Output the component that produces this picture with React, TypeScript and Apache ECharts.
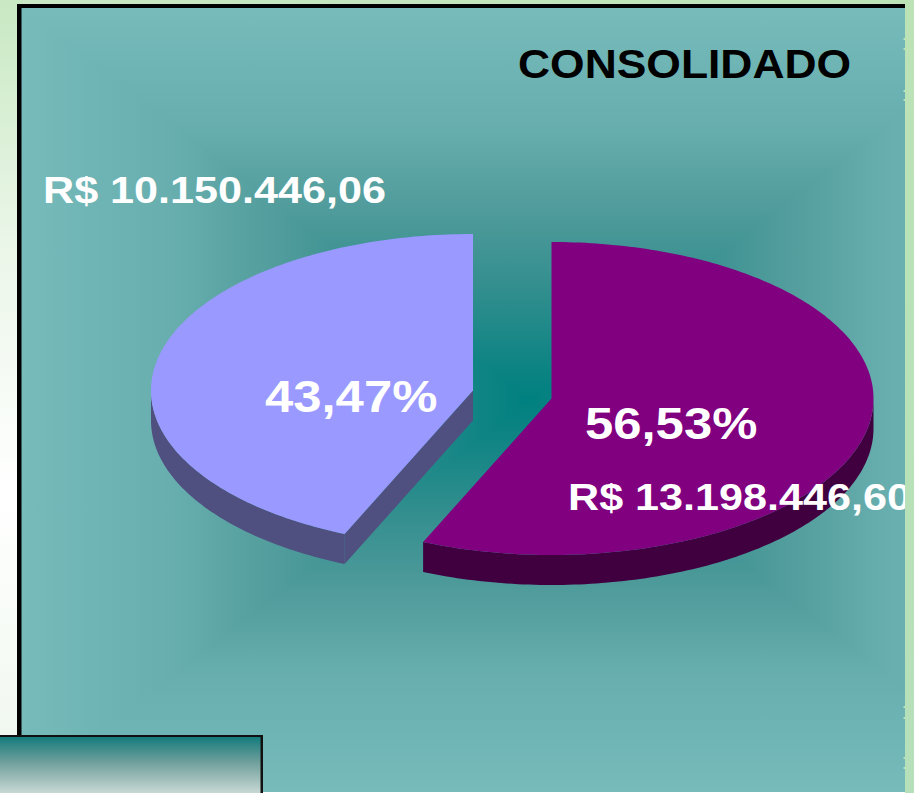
import React, { useEffect, useRef } from "react";
import * as echarts from "echarts";

const categories = ["Segmento A", "Segmento B"];
const values = [13198446.6, 10150446.06];
const valueLabels = ["R$ 13.198.446,60", "R$ 10.150.446,06"];
const percentLabels = ["56,53%", "43,47%"];
const titleText = "CONSOLIDADO";

const W = 914;
const H = 793;
const RX = 322;
const RY = 156.5;
const DEPTH = 30;
const FONT = '"Liberation Sans", Arial, sans-serif';

const sliceStyle = [
  {
    cx: 551.5, cy: 398.5, top: "#800080", side: "#400040",
    pct: [585, 424], val: [568, 497],
  },
  {
    cx: 473, cy: 390.5, top: "#9999FF", side: "#4F4F80",
    pct: [265, 397], val: [43, 190.5],
  },
];

const PANEL = { x0: 20, y0: 8, x1: 1040, y1: 792, cx: 530, cy: 400 };
const BG_STOPS: [number, string][] = [
  [0, "#77BBBB"],
  [0.3, "#68AEAE"],
  [0.515, "#509B9B"],
  [0.7, "#358F8F"],
  [0.9, "#108484"],
  [1, "#008080"],
];
const stops = BG_STOPS.map(([offset, color]) => ({ offset, color }));

function wedge(points: number[][], x0: number, y0: number, x1: number, y1: number) {
  return {
    type: "polygon",
    z: 1,
    silent: true,
    shape: { points },
    style: { fill: new echarts.graphic.LinearGradient(x0, y0, x1, y1, stops, true) },
  };
}

function txt(text: string, x: number, y: number, size: number, fill: string, sx: number, z?: number) {
  return {
    type: "text",
    x,
    y,
    scaleX: sx,
    z,
    silent: true,
    style: {
      text,
      fill,
      font: `bold ${size}px ${FONT}`,
      textAlign: "left",
      textVerticalAlign: "middle",
    },
  };
}

function buildOption() {
  const total = values.reduce((a, b) => a + b, 0);
  const P = PANEL;
  const c = [P.cx, P.cy];
  const marks = [38, 48, 90, 99, 706, 717, 757, 767];
  return {
    animation: false,
    backgroundColor: "#FFFFFF",
    graphic: {
      elements: [
        {
          type: "rect", z: 0, silent: true,
          shape: { x: 0, y: 0, width: 18, height: H },
          style: {
            fill: new echarts.graphic.LinearGradient(0, 0, 0, 1, [
              { offset: 0, color: "#C8E8C2" },
              { offset: 0.3, color: "#EAF6E8" },
              { offset: 0.62, color: "#FFFFFF" },
              { offset: 0.95, color: "#F0F8EF" },
            ]),
          },
        },
        // side wedges overlap underneath the top and bottom wedges to hide seams
        wedge([[P.x0, P.y0 - 4], [P.x0, P.y1 + 12], [P.cx + 12, P.cy]], P.x0, 0, P.cx, 0),
        wedge([[P.x1, P.y0 - 4], [P.x1, P.y1 + 12], [P.cx - 12, P.cy]], P.x1, 0, P.cx, 0),
        wedge([[P.x0, P.y0], [P.x1, P.y0], c], 0, P.y0, 0, P.cy),
        wedge([[P.x0, P.y1], [P.x1, P.y1], c], 0, P.y1, 0, P.cy),
        {
          type: "rect", z: 2, silent: true,
          shape: { x: 0, y: 0, width: W, height: 5 },
          style: {
            fill: new echarts.graphic.LinearGradient(0, 0, 1, 0, [
              { offset: 0, color: "#C9E8C4" },
              { offset: 1, color: "#BCE3B6" },
            ]),
          },
        },
        {
          type: "rect", z: 2, silent: true,
          shape: { x: 17, y: 4, width: 900, height: 4 },
          style: { fill: "#000000" },
        },
        {
          type: "rect", z: 2, silent: true,
          shape: { x: 17, y: 4, width: 4.5, height: 733 },
          style: { fill: "#000000" },
        },
        {
          type: "rect", z: 2, silent: true,
          shape: { x: 0, y: 735, width: 263, height: 58 },
          style: { fill: "#111111" },
        },
        {
          type: "rect", z: 2, silent: true,
          shape: { x: 0, y: 737, width: 260.5, height: 56 },
          style: {
            fill: new echarts.graphic.LinearGradient(0, 0, 0, 1, [
              { offset: 0, color: "#147C7C" },
              { offset: 0.45, color: "#6F9F9C" },
              { offset: 1, color: "#C8D8D4" },
            ]),
          },
        },
        {
          ...txt(titleText, 518, 64, 40.5, "#000000", 1.097),
          z: 3,
        },
        {
          type: "rect", z: 20, silent: true,
          shape: { x: 905, y: 0, width: 9, height: H },
          style: {
            fill: new echarts.graphic.LinearGradient(0, 0, 0, 1, [
              { offset: 0, color: "#BCE3B6" },
              { offset: 1, color: "#B6E0BA" },
            ]),
          },
        },
        ...marks.map((y) => ({
          type: "rect", z: 20, silent: true,
          shape: { x: 903.5, y, width: 1.5, height: 2 },
          style: { fill: "#B8E1B8" },
        })),
      ],
    },
    series: [
      {
        type: "custom",
        coordinateSystem: "none",
        silent: true,
        z: 10,
        data: values.map((v, i) => ({ name: categories[i], value: [v] })),
        renderItem: (params: any, api: any) => {
          const i = params.dataIndex;
          const s = sliceStyle[i];
          const before = values.slice(0, i).reduce((a, b) => a + b, 0);
          const a0 = (before / total) * 360;
          const a1 = ((before + api.value(0)) / total) * 360;
          const pt = (deg: number, dy = 0) => {
            const r = (deg * Math.PI) / 180;
            return [s.cx + RX * Math.sin(r), s.cy - RY * Math.cos(r) + dy];
          };
          const rim: number[][] = [];
          for (let d = a0; d < a1; d += 1) rim.push(pt(d));
          rim.push(pt(a1));
          const lo = Math.max(a0, 90);
          const hi = Math.min(a1, 270);
          const wall: number[][] = [];
          if (hi > lo) {
            const up: number[][] = [];
            for (let d = lo; d < hi; d += 1) up.push(pt(d));
            up.push(pt(hi));
            const down = up.map(([x, y]) => [x, y + DEPTH]).reverse();
            wall.push(...up, ...down);
          }
          const children: any[] = [];
          if (wall.length) {
            children.push({ type: "polygon", shape: { points: wall }, style: { fill: s.side } });
          }
          // radial cut face seen from the front
          if (a0 > 90 && a0 < 270) {
            const e = pt(a0);
            children.push({
              type: "polygon",
              shape: {
                points: [[s.cx, s.cy], e, [e[0], e[1] + DEPTH], [s.cx, s.cy + DEPTH]],
              },
              style: { fill: s.side },
            });
          }
          children.push({
            type: "polygon",
            shape: { points: [[s.cx, s.cy], ...rim] },
            style: { fill: s.top },
          });
          children.push(txt(percentLabels[i], s.pct[0], s.pct[1], 44, "#FFFFFF", 1.155));
          children.push(txt(valueLabels[i], s.val[0], s.val[1], 37.5, "#FFFFFF", 1.15));
          return { type: "group", children };
        },
      },
    ],
  };
}

export default function App() {
  const ref = useRef<HTMLDivElement>(null);
  useEffect(() => {
    document.body.style.margin = "0";
    const chart = echarts.init(ref.current!, undefined, { renderer: "svg" });
    chart.setOption(buildOption() as any);
    return () => chart.dispose();
  }, []);
  return <div ref={ref} style={{ width: W, height: H, overflow: "hidden" }} />;
}
